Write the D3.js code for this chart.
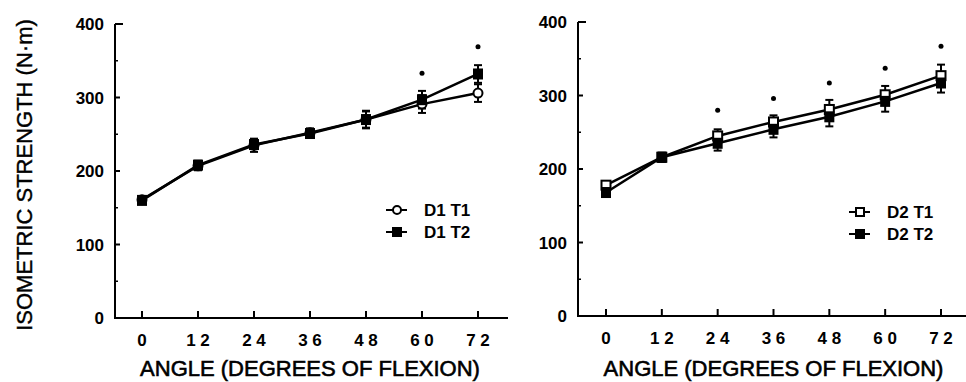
<!DOCTYPE html>
<html>
<head>
<meta charset="utf-8">
<script src="https://cdn.jsdelivr.net/npm/d3@7"></script>
<style>
  body { margin: 0; background: #fff; }
  svg { display: block; }
  text { font-family: "Liberation Sans", Arial, sans-serif; fill: #000; }
</style>
</head>
<body>
<svg id="viz" width="966" height="382"></svg>
<script>
// angles of knee flexion (degrees)
var angles = [0, 12, 24, 36, 48, 60, 72];
var angleLabels = ["0", "1 2", "2 4", "3 6", "4 8", "6 0", "7 2"];
var yTicks = [0, 100, 200, 300, 400];
var yMinorTicks = [50, 150, 250, 350];

// day 1
var d1t1 = [161, 207, 235, 252, 270, 291, 306];
var d1t2 = [160, 208, 236, 251, 270, 297, 332];
var d1t1Err = [5, 6, 9, 6, 12, 12, 12];
var d1t2Err = [5, 6, 6, 6, 11, 12, 12];
var d1SigAngles = [60, 72];
var d1SigLevel = [333, 369];

// day 2
var d2t1 = [178, 216, 245, 264, 281, 301, 327];
var d2t2 = [168, 216, 235, 254, 271, 292, 317];
var d2t1Err = [5, 6, 9, 9, 13, 12, 15];
var d2t2Err = [5, 6, 10, 11, 13, 14, 13];
var d2SigAngles = [24, 36, 48, 60, 72];
var d2SigLevel = [280, 296, 317, 337, 367];

var svg = d3.select("#viz");

function drawPanel(cfg) {
    var x = d3.scaleLinear().domain([0, 72]).range([cfg.x0, cfg.x1]);
    var y = d3.scaleLinear().domain([0, 400]).range([cfg.yBottom, cfg.yTop]);
    var g = svg.append("g");

    // y axis
    g.append("line").attr("x1", cfg.axisX).attr("x2", cfg.axisX)
        .attr("y1", y(0) + 1).attr("y2", y(400))
        .attr("stroke", "#000").attr("stroke-width", 2);
    g.selectAll(".ytick").data(yTicks).enter().append("line")
        .attr("x1", cfg.axisX).attr("x2", function (d) { return cfg.axisX + (d === 400 ? 8 : 5); })
        .attr("y1", function (d) { return y(d); }).attr("y2", function (d) { return y(d); })
        .attr("stroke", "#000").attr("stroke-width", 2);
    g.selectAll(".yminor").data(yMinorTicks).enter().append("line")
        .attr("x1", cfg.axisX).attr("x2", cfg.axisX + 3)
        .attr("y1", function (d) { return y(d); }).attr("y2", function (d) { return y(d); })
        .attr("stroke", "#000").attr("stroke-width", 1.5);
    g.selectAll(".ylab").data(yTicks).enter().append("text")
        .attr("x", cfg.axisX - 11).attr("y", function (d) { return y(d) + 6; })
        .attr("text-anchor", "end").attr("font-size", 17).attr("font-weight", "bold")
        .text(function (d) { return d; });

    // x axis
    g.append("line").attr("x1", cfg.axisX - 1).attr("x2", cfg.axisEnd)
        .attr("y1", y(0)).attr("y2", y(0))
        .attr("stroke", "#000").attr("stroke-width", 2);
    g.selectAll(".xtick").data(angles).enter().append("line")
        .attr("x1", function (d) { return x(d); }).attr("x2", function (d) { return x(d); })
        .attr("y1", y(0)).attr("y2", y(0) - 7)
        .attr("stroke", "#000").attr("stroke-width", 2);
    g.selectAll(".xlab").data(angles).enter().append("text")
        .attr("x", function (d) { return x(d); }).attr("y", y(0) + 28)
        .attr("text-anchor", "middle").attr("font-size", 17).attr("font-weight", "bold")
        .attr("xml:space", "preserve")
        .text(function (d, i) { return angleLabels[i]; });
    g.append("text").attr("x", (cfg.x0 + cfg.x1) / 2).attr("y", 376)
        .attr("text-anchor", "middle").attr("font-size", 22)
        .attr("stroke", "#000").attr("stroke-width", 0.6)
        .text("ANGLE (DEGREES OF FLEXION)");

    var line = d3.line().x(function (d, i) { return x(angles[i]); }).y(function (d) { return y(d); });
    [cfg.t1, cfg.t2].forEach(function (s) {
        g.append("path").datum(s).attr("d", line)
            .attr("fill", "none").attr("stroke", "#000").attr("stroke-width", 2.5);
    });

    // error bars
    [[cfg.t1, cfg.t1Err], [cfg.t2, cfg.t2Err]].forEach(function (pair) {
        var vals = pair[0], errs = pair[1];
        var eb = g.append("g").attr("stroke", "#000").attr("stroke-width", 2);
        angles.forEach(function (a, i) {
            var top = y(vals[i] + errs[i]), bot = y(vals[i] - errs[i]);
            eb.append("line").attr("x1", x(a)).attr("x2", x(a)).attr("y1", top).attr("y2", bot);
            eb.append("line").attr("x1", x(a) - 4).attr("x2", x(a) + 4).attr("y1", top).attr("y2", top);
            eb.append("line").attr("x1", x(a) - 4).attr("x2", x(a) + 4).attr("y1", bot).attr("y2", bot);
        });
    });

    // markers: open T1 first, filled T2 on top
    if (cfg.t1Shape === "circle") {
        g.selectAll(".t1").data(cfg.t1).enter().append("circle")
            .attr("cx", function (d, i) { return x(angles[i]); })
            .attr("cy", function (d) { return y(d); })
            .attr("r", 4.5).attr("fill", "#fff").attr("stroke", "#000").attr("stroke-width", 2);
    } else {
        g.selectAll(".t1").data(cfg.t1).enter().append("rect")
            .attr("x", function (d, i) { return x(angles[i]) - 4.5; })
            .attr("y", function (d) { return y(d) - 4.5; })
            .attr("width", 9).attr("height", 9)
            .attr("fill", "#fff").attr("stroke", "#000").attr("stroke-width", 2);
    }
    g.selectAll(".t2").data(cfg.t2).enter().append("rect")
        .attr("x", function (d, i) { return x(angles[i]) - 5; })
        .attr("y", function (d) { return y(d) - 5.5; })
        .attr("width", 10).attr("height", 11).attr("fill", "#000");

    // significance marks
    g.selectAll(".sig").data(cfg.sigAngles).enter().append("circle")
        .attr("cx", function (d) { return x(d); })
        .attr("cy", function (d, i) { return y(cfg.sigLevel[i]); })
        .attr("r", 2.5).attr("fill", "#000");

    // legend
    var lg = g.append("g").attr("transform", "translate(" + cfg.legendX + "," + cfg.legendY + ")");
    [0, 1].forEach(function (k) {
        var ly = k * 22;
        lg.append("line").attr("x1", 0).attr("x2", 21).attr("y1", ly).attr("y2", ly)
            .attr("stroke", "#000").attr("stroke-width", 2);
        if (k === 1) {
            lg.append("rect").attr("x", 6).attr("y", ly - 5).attr("width", 10).attr("height", 10).attr("fill", "#000");
        } else if (cfg.t1Shape === "circle") {
            lg.append("circle").attr("cx", 11).attr("cy", ly).attr("r", 4)
                .attr("fill", "#fff").attr("stroke", "#000").attr("stroke-width", 2);
        } else {
            lg.append("rect").attr("x", 7).attr("y", ly - 4).attr("width", 8).attr("height", 8)
                .attr("fill", "#fff").attr("stroke", "#000").attr("stroke-width", 2);
        }
        lg.append("text").attr("x", 38).attr("y", ly + 6)
            .attr("font-size", 17).attr("font-weight", "bold")
            .text(cfg.names[k]);
    });
}

drawPanel({
    axisX: 115, axisEnd: 508, x0: 142, x1: 478, yBottom: 318, yTop: 24,
    t1: d1t1, t2: d1t2, t1Err: d1t1Err, t2Err: d1t2Err,
    sigAngles: d1SigAngles, sigLevel: d1SigLevel,
    t1Shape: "circle", names: ["D1 T1", "D1 T2"], legendX: 386, legendY: 210
});
drawPanel({
    axisX: 578, axisEnd: 966, x0: 606, x1: 941, yBottom: 316, yTop: 22,
    t1: d2t1, t2: d2t2, t1Err: d2t1Err, t2Err: d2t2Err,
    sigAngles: d2SigAngles, sigLevel: d2SigLevel,
    t1Shape: "square", names: ["D2 T1", "D2 T2"], legendX: 849, legendY: 212
});

svg.append("text").attr("transform", "translate(32,175) rotate(-90)")
    .attr("text-anchor", "middle").attr("font-size", 22)
    .attr("stroke", "#000").attr("stroke-width", 0.4)
    .text("ISOMETRIC STRENGTH (N\u00b7m)");
</script>
</body>
</html>
